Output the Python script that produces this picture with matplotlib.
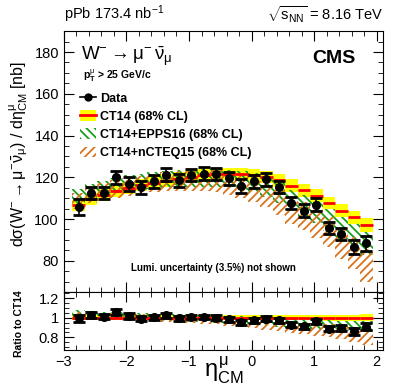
import numpy as np
import matplotlib
matplotlib.use("Agg")
import matplotlib.pyplot as plt
from matplotlib.patches import Patch
from matplotlib.lines import Line2D
from matplotlib.ticker import MultipleLocator

plt.rcParams['font.family'] = ['Liberation Sans', 'DejaVu Sans']
plt.rcParams['mathtext.fontset'] = 'custom'
plt.rcParams['mathtext.rm'] = 'Liberation Sans'
plt.rcParams['mathtext.it'] = 'Liberation Sans'
plt.rcParams['mathtext.bf'] = 'Liberation Sans:bold'
plt.rcParams['hatch.linewidth'] = 1.3

# bins in eta_CM (lab bins of 0.2 shifted by -0.465)
edges = np.round(np.arange(-2.865, 1.94, 0.2), 3)
centers = 0.5 * (edges[:-1] + edges[1:])

data = [105.9, 112.5, 112.5, 120.0, 116.8, 115.2, 118.0, 121.2, 118.5, 121.0, 121.8, 121.5,
        119.5, 115.8, 118.0, 119.0, 115.3, 107.8, 104.0, 106.9, 95.8, 92.8, 86.7, 88.3]
data_err = [3.8, 2.9, 3.0, 3.2, 3.2, 3.0, 3.0, 3.2, 3.0, 3.0, 3.0, 3.0,
            3.0, 3.2, 3.0, 3.2, 3.0, 3.0, 3.0, 3.0, 3.0, 3.0, 3.2, 3.5]

ct14 = [106.5, 109.5, 111.4, 113.3, 114.8, 116.2, 117.3, 118.4, 119.4, 120.2, 120.9, 121.4,
        121.6, 121.5, 121.1, 120.2, 118.5, 116.0, 113.9, 111.2, 107.7, 104.0, 100.8, 97.3]
ct14_err = [2.7, 2.8, 2.8, 2.8, 2.9, 2.9, 2.9, 3.0, 3.0, 3.0, 3.0, 3.0,
            3.0, 3.0, 3.0, 3.0, 3.0, 3.0, 3.1, 3.1, 3.1, 3.2, 3.2, 3.3]

epps16 = [110.8, 113.3, 114.7, 116.1, 117.1, 117.9, 118.5, 119.0, 119.4, 119.6, 119.7, 119.6,
          119.2, 118.5, 117.5, 115.4, 112.6, 109.0, 106.5, 103.4, 99.6, 95.7, 92.2, 88.5]
epps16_err = [3.6, 3.6, 3.7, 3.7, 3.8, 3.8, 3.9, 4.0, 4.0, 4.1, 4.2, 4.3,
              4.4, 4.5, 4.6, 4.7, 4.8, 4.9, 5.0, 5.1, 5.2, 5.3, 5.4, 5.5]

ncteq15 = [108.6, 111.7, 113.1, 114.4, 115.4, 116.2, 117.3, 117.8, 118.2, 118.4, 118.5, 118.4,
           117.3, 116.0, 114.4, 111.8, 108.4, 104.4, 101.4, 97.9, 93.7, 88.4, 83.7, 77.8]
ncteq15_err = [4.0, 4.0, 4.1, 4.2, 4.3, 4.4, 4.5, 4.6, 4.8, 5.0, 5.2, 5.4,
               5.6, 5.8, 6.0, 6.2, 6.4, 6.6, 6.8, 7.0, 7.2, 7.4, 7.6, 7.8]

data = np.array(data); data_err = np.array(data_err)
ct14 = np.array(ct14); ct14_err = np.array(ct14_err)
epps16 = np.array(epps16); epps16_err = np.array(epps16_err)
ncteq15 = np.array(ncteq15); ncteq15_err = np.array(ncteq15_err)

YELLOW = '#ffff00'
RED = '#ff0000'
GREEN = '#1a9e1a'
ORANGE = '#d9741c'
H_GREEN = '\\\\\\\\'
H_ORANGE = '////'

fig = plt.figure(figsize=(3.99, 3.89), dpi=100)
ax = fig.add_axes([0.160, 0.249, 0.800, 0.671])
axr = fig.add_axes([0.160, 0.100, 0.800, 0.149], sharex=ax)


def draw(a, cen, cen_err, e_c, e_e, n_c, n_e, d, d_e):
    a.stairs(cen + cen_err, edges, baseline=cen - cen_err, fill=True,
             color=YELLOW, lw=0, zorder=1)
    a.stairs(e_c + e_e, edges, baseline=e_c - e_e, fill=False, hatch=H_GREEN,
             edgecolor=GREEN, lw=0, zorder=2)
    a.stairs(n_c + n_e, edges, baseline=n_c - n_e, fill=False, hatch=H_ORANGE,
             edgecolor=ORANGE, lw=0, zorder=3)
    a.hlines(cen, edges[:-1], edges[1:], color=RED, lw=2.0, zorder=4)
    a.errorbar(centers, d, yerr=d_e, fmt='o', color='black', ms=5.5,
               elinewidth=1.2, capsize=4, capthick=2, zorder=5)


draw(ax, ct14, ct14_err, epps16, epps16_err, ncteq15, ncteq15_err, data, data_err)
draw(axr, ct14 / ct14, ct14_err / ct14, epps16 / ct14, epps16_err / ct14,
     ncteq15 / ct14, ncteq15_err / ct14, data / ct14, data_err / ct14)

for a in (ax, axr):
    a.tick_params(which='both', direction='in', top=True, right=True, labelsize=10.5)
    a.tick_params(which='major', length=7)
    a.tick_params(which='minor', length=3.5)
    a.xaxis.set_major_locator(MultipleLocator(1))
    a.xaxis.set_minor_locator(MultipleLocator(0.2))

ax.set_xlim(-3, 2.1)
ax.set_ylim(65, 190)
ax.yaxis.set_major_locator(MultipleLocator(20))
ax.yaxis.set_minor_locator(MultipleLocator(5))
ax.tick_params(labelbottom=False)

axr.set_ylim(0.67, 1.26)
axr.yaxis.set_minor_locator(MultipleLocator(0.05))
axr.set_yticks([0.8, 1.0, 1.2])
axr.set_yticklabels(['0.8', '1', '1.2'])
axr.set_xticks([-3, -2, -1, 0, 1, 2])
axr.set_xticklabels(['\u22123', '\u22122', '\u22121', '0', '1', '2'])

ax.set_ylabel(r'd$\sigma$(W$^{-}\rightarrow\mu^{-}\bar{\nu}_{\mu}$) / d$\eta^{\mu}_{\rm CM}$ [nb]',
              fontsize=11.5)
ax.yaxis.set_label_coords(-0.105, 0.53)
axr.set_ylabel('Ratio to CT14', fontsize=7.5, fontweight='bold')
axr.yaxis.set_label_coords(-0.125, 0.45)
axr.set_xlabel(r'$\eta^{\mu}_{\rm CM}$', fontsize=17)
axr.xaxis.set_label_coords(0.50, -0.07)

fig.text(0.160, 0.935, r'pPb 173.4 nb$^{-1}$', fontsize=10.5, ha='left', va='bottom')
fig.text(0.960, 0.935, r'$\sqrt{s_{\rm NN}}$ = 8.16 TeV', fontsize=10.5, ha='right', va='bottom')

ax.text(0.915, 0.895, 'CMS', transform=ax.transAxes, fontsize=14, fontweight='bold',
        ha='right', va='center')
ax.text(0.055, 0.905, r'W$^{-}\rightarrow\mu^{-}\,\bar{\nu}_{\mu}$', transform=ax.transAxes,
        fontsize=13.5, ha='left', va='center')
ax.text(0.06, 0.83, r'$\mathbf{p}_{\mathbf{T}}^{\mu}$ > 25 GeV/c', transform=ax.transAxes,
        fontsize=7.5, fontweight='bold', ha='left', va='center')
ax.text(0.47, 0.092, 'Lumi. uncertainty (3.5%) not shown', transform=ax.transAxes,
        fontsize=7, fontweight='bold', ha='center', va='center')

h_data = Line2D([], [], color='black', marker='o', ms=5, lw=1.2)
h_ct14 = (Patch(facecolor=YELLOW, lw=0), Line2D([], [], color=RED, lw=2))
h_epps = Patch(facecolor='none', edgecolor=GREEN, hatch=H_GREEN, lw=0)
h_ncteq = Patch(facecolor='none', edgecolor=ORANGE, hatch=H_ORANGE, lw=0)
leg = ax.legend([h_data, h_ct14, h_epps, h_ncteq],
                ['Data', 'CT14 (68% CL)', 'CT14+EPPS16 (68% CL)', 'CT14+nCTEQ15 (68% CL)'],
                loc='upper left', bbox_to_anchor=(0.035, 0.785), frameon=False,
                prop={'weight': 'bold', 'size': 9}, handlelength=1.3, handleheight=0.9,
                handletextpad=0.3, labelspacing=0.45, borderaxespad=0)

fig.savefig('out.png', dpi=100)
